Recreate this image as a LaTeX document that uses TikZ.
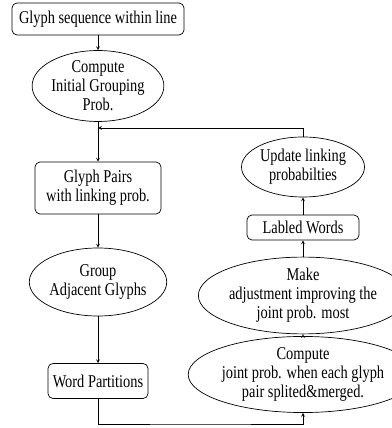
\documentclass[tikz,border=0pt]{standalone}
\usepackage{fontspec}
\newfontfamily\diagfont[FakeStretch=0.8]{Liberation Serif}
\usepackage{tikz}
\usetikzlibrary{shapes, arrows, positioning}
\tikzset{
    block/.style={
        rectangle,
        rounded corners=5pt,
        line width=0.7pt,
        draw=black,
        align=center,
        inner sep=0pt,
        font=\diagfont\fontsize{18}{19}\selectfont,
    },
    proc/.style={
        ellipse,
        line width=0.7pt,
        draw=black,
        align=center,
        inner sep=0pt,
        font=\diagfont\fontsize{18}{19}\selectfont,
    },
}

\begin{document}
\begin{tikzpicture}[x=1pt, y=1pt, ->, >=stealth, line width=0.7pt, on grid]
      \useasboundingbox (0,0) rectangle (391,428);

      % left column
      \node[block, minimum width=172pt, minimum height=32pt] (seq) at (98,409) {Glyph sequence within line};

      \node[proc, minimum width=123pt, minimum height=65pt, below=67pt of seq] (initprob) {Compute\\Initial Grouping\\Prob.};

      \node[block, minimum width=126pt, minimum height=52pt, below=102pt of initprob] (pairs) {Glyph Pairs\\with linking prob.};

      \node[proc, minimum width=116pt, minimum height=68pt, below=94pt of pairs] (group) {Group\\Adjacent Glyphs};

      \node[block, minimum width=100pt, minimum height=35pt, below=99pt of group] (parts) {Word Partitions};

      % right column
      \node[proc, minimum width=172pt, minimum height=65pt] (joint) at (303,53.5) {Compute\\joint prob. when each glyph\\pair splited\&merged.};

      \node[proc, minimum width=158pt, minimum height=47pt, above=79pt of joint] (adjust) {Make\\adjustment improving the\\joint prob. most};

      \node[block, minimum width=112pt, minimum height=25pt, above=68pt of adjust] (labled) {Labled Words};

      \node[proc, minimum width=123pt, minimum height=60pt, above=60.5pt of labled] (update) {Update linking\\probabilties};

      \coordinate (loopin) at (98,300);
      \coordinate (loopbot) at (200,4);

      \draw (seq) -- (initprob);
      \draw (initprob) -- (pairs);
      \draw (pairs) -- (group);
      \draw (group) -- (parts);
      \draw (parts.south) |- (loopbot) -| (joint.south);
      \draw (joint) -- (adjust);
      \draw (adjust) -- (labled);
      \draw (labled) -- (update);
      \draw (update.north) |- (loopin);

    \end{tikzpicture}
\end{document}
